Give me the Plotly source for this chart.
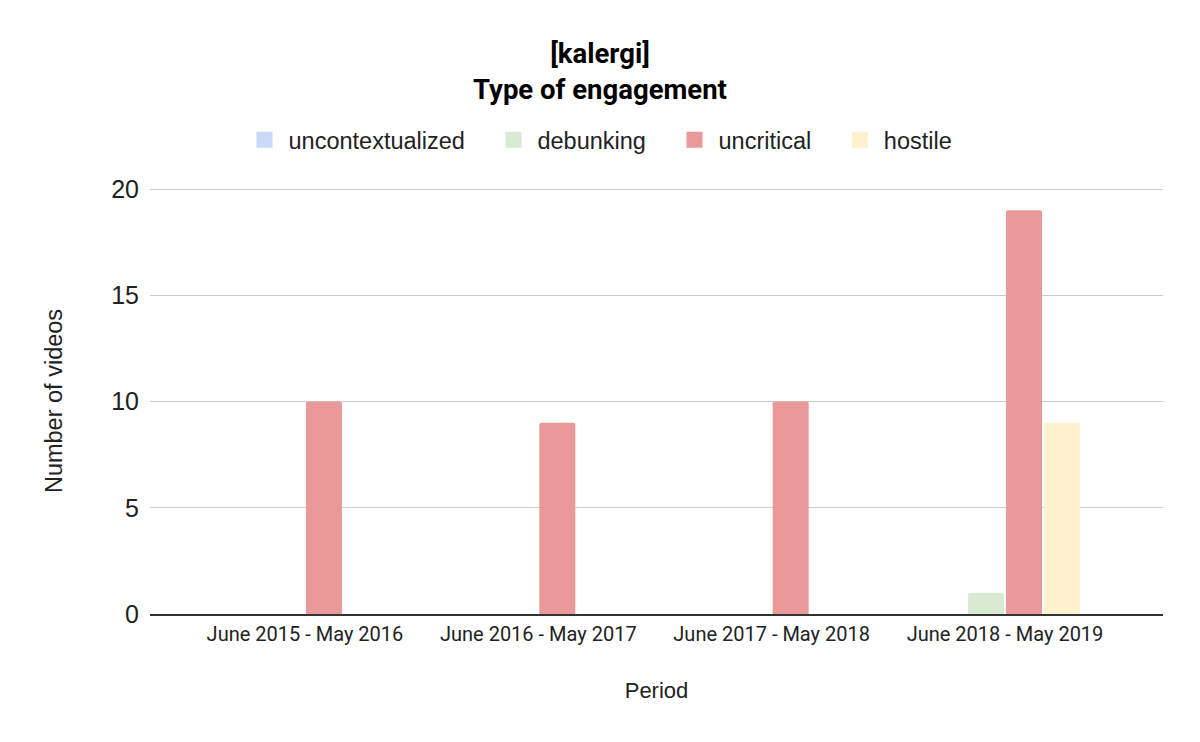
import plotly.graph_objects as go

periods = ["June 2015 - May 2016", "June 2016 - May 2017", "June 2017 - May 2018", "June 2018 - May 2019"]
series_names = ["uncontextualized", "debunking", "uncritical", "hostile"]
uncontextualized = [0, 0, 0, 0]
debunking = [0, 0, 0, 1]
uncritical = [10, 9, 10, 19]
hostile = [0, 0, 0, 9]
y_ticks = [0, 5, 10, 15, 20]

colors = ["#c9daf8", "#d9ead3", "#ea9999", "#fff2cc"]
values = [uncontextualized, debunking, uncritical, hostile]

# page has an 8px body margin; figure sized to fit the window
W, H = 1192, 734

fig = go.Figure()
for name, vals, col in zip(series_names, values, colors):
    fig.add_trace(go.Bar(x=periods, y=vals, name=name, marker_color=col,
                         marker_line_width=0, showlegend=False, legendgroup=name))
for i, (name, col) in enumerate(zip(series_names, colors)):
    label = name if i == len(series_names) - 1 else name + "\u00a0\u00a0\u00a0"
    fig.add_trace(go.Scatter(x=[None], y=[None], mode="markers", name=label, legendgroup=name,
                             marker=dict(symbol="square", size=16, color=col)))

fig.update_layout(
    width=W, height=H,
    paper_bgcolor="white", plot_bgcolor="white",
    margin=dict(l=142, r=37, t=180, b=128),
    barmode="group", bargap=0.3486, bargroupgap=0.0526, barcornerradius=2,
    title=dict(text="[kalergi]<br>Type of engagement", x=592 / W, xref="container", xanchor="center",
               y=1 - 55 / H, yref="container", yanchor="middle",
               font=dict(family="Roboto", size=27.5, color="#000000", weight="bold")),
    legend=dict(orientation="h", xref="container", x=591 / W, xanchor="center",
                yref="container", y=1 - 132 / H, yanchor="middle",
                font=dict(family="Liberation Sans", size=23.5, color="#222222"),
                itemsizing="trace", itemwidth=38),
    xaxis=dict(type="category", range=[-0.664, 3.677], showgrid=False, showline=True,
               linecolor="#333333", linewidth=2, ticks="", ticklabelstandoff=1,
               tickfont=dict(family="Roboto", size=20, color="#222222"),
               title=dict(text="Period", font=dict(family="Liberation Sans", size=22, color="#222222"),
                          standoff=38)),
    yaxis=dict(range=[0, 20.05], tickvals=y_ticks, showgrid=True, gridcolor="#cccccc", gridwidth=1,
               zeroline=False, showline=False, ticks="", ticklabelstandoff=10,
               tickfont=dict(family="Liberation Sans", size=25, color="#222222"),
               title=dict(text="Number of videos", font=dict(family="Liberation Sans", size=23.5, color="#222222"),
                          standoff=41)),
)

fig.write_html("out.html")
